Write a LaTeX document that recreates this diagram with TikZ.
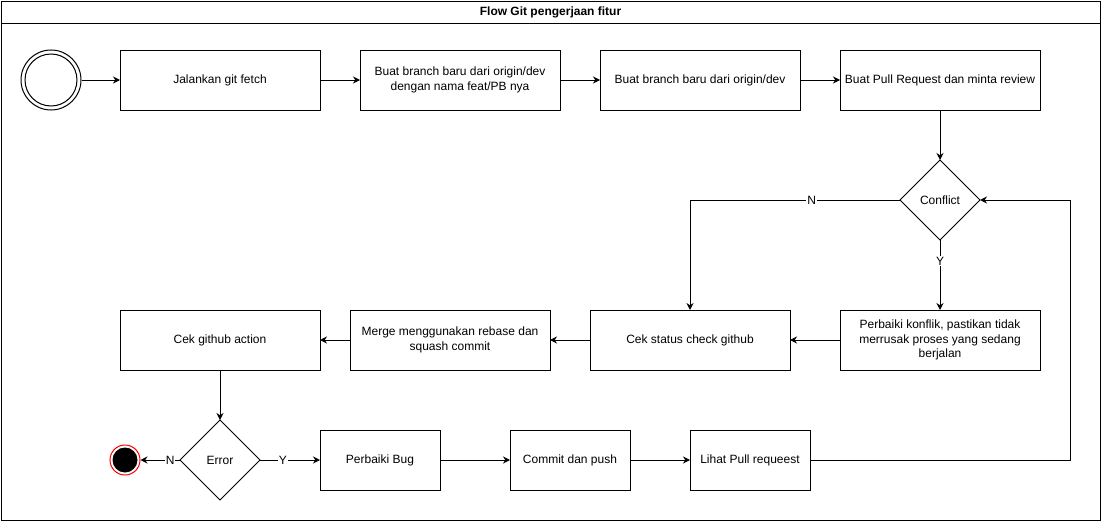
\documentclass[tikz,border=0pt]{standalone}
\usepackage{fontspec}
\setmainfont{Liberation Sans}
\usetikzlibrary{arrows.meta,calc,positioning,shapes.geometric}

\tikzset{
  kotak/.style={draw, line width=1pt, minimum width=200pt, minimum height=60pt, inner sep=0pt, outer sep=0pt, align=center},
  kotakkecil/.style={kotak, minimum width=120pt},
  keputusan/.style={draw, diamond, line width=1pt, minimum width=80pt, minimum height=80pt, inner sep=0pt, outer sep=0pt},
  panah/.style={line width=1pt, -{Stealth[length=7pt,width=7pt]}},
  teksgaris/.style={fill=white, inner sep=1pt}
}

\begin{document}
\begin{tikzpicture}[x=1pt, y=-1pt, font=\fontsize{12}{14.5}\selectfont]
\useasboundingbox (0,0) rectangle (1101,522);
\draw[line width=1pt] (1,1) rectangle (1100,520);
\draw[line width=1pt] (1,23) -- (1100,23);
\node[font=\fontsize{12}{14}\selectfont\bfseries] (judul) at (550.5,12) {Flow Git pengerjaan fitur};

%%%%%%%%%%%%%%%%% baris 1
\node[circle, draw, line width=1pt, minimum size=60pt, inner sep=0pt] (mulai) at (51,80) {};
\node[circle, draw, line width=1pt, minimum size=52pt, inner sep=0pt] (mulaidalam) at (mulai) {};
\node[kotak] (fetch) at (220,80) {Jalankan git fetch};
\node[kotak, right=40pt of fetch] (branchfeat) {Buat branch baru dari origin/dev\\dengan nama feat/PB nya};
\node[kotak, right=40pt of branchfeat] (branchdev) {Buat branch baru dari origin/dev};
\node[kotak, right=40pt of branchdev] (pullreq) {Buat Pull Request dan minta review};

%%%%%%%%%%%%%%%%% baris 2
\node[keputusan] (konflik) at (940,200) {Conflict};
\node[kotak] (perbaiki) at (940,340) {Perbaiki konflik, pastikan tidak\\merrusak proses yang sedang\\berjalan};
\node[kotak, left=50pt of perbaiki] (cekstatus) {Cek status check github};
\node[kotak, left=40pt of cekstatus] (merge) {Merge menggunakan rebase dan\\squash commit};
\node[kotak, left=30pt of merge] (cekaction) {Cek github action};

%%%%%%%%%%%%%%%%% baris 3
\node[keputusan] (error) at (220,460) {Error};
\node[circle, draw=red, fill=white, line width=1pt, minimum size=30pt, inner sep=0pt] (akhir) at (125,460) {};
\node[circle, fill=black, minimum size=25pt, inner sep=0pt] (akhirdalam) at (akhir) {};
\node[kotakkecil] (bug) at (380,460) {Perbaiki Bug};
\node[kotakkecil, right=70pt of bug] (commit) {Commit dan push};
\node[kotakkecil, right=60pt of commit] (lihat) {Lihat Pull requeest};
\coordinate (balik) at (1070,330);

%%%%%%%%%%%%%%%%% panah
\draw[panah] (mulai) -- (fetch);
\draw[panah] (fetch) -- (branchfeat);
\draw[panah] (branchfeat) -- (branchdev);
\draw[panah] (branchdev) -- (pullreq);
\draw[panah] (pullreq) -- (konflik);
\draw[panah] (konflik.west) -| node[teksgaris, pos=0.21] {N} (cekstatus.north);
\draw[panah] (konflik) -- node[teksgaris, pos=0.3] {Y} (perbaiki);
\draw[panah] (perbaiki) -- (cekstatus);
\draw[panah] (cekstatus) -- (merge);
\draw[panah] (merge) -- (cekaction);
\draw[panah] (cekaction) -- (error);
\draw[panah] (error) -- node[teksgaris, pos=0.25] {N} (akhir);
\draw[panah] (error) -- node[teksgaris, pos=0.38] {Y} (bug);
\draw[panah] (bug) -- (commit);
\draw[panah] (commit) -- (lihat);
\draw[panah] (lihat.east) -| (balik) |- (konflik.east);
\end{tikzpicture}
\end{document}
